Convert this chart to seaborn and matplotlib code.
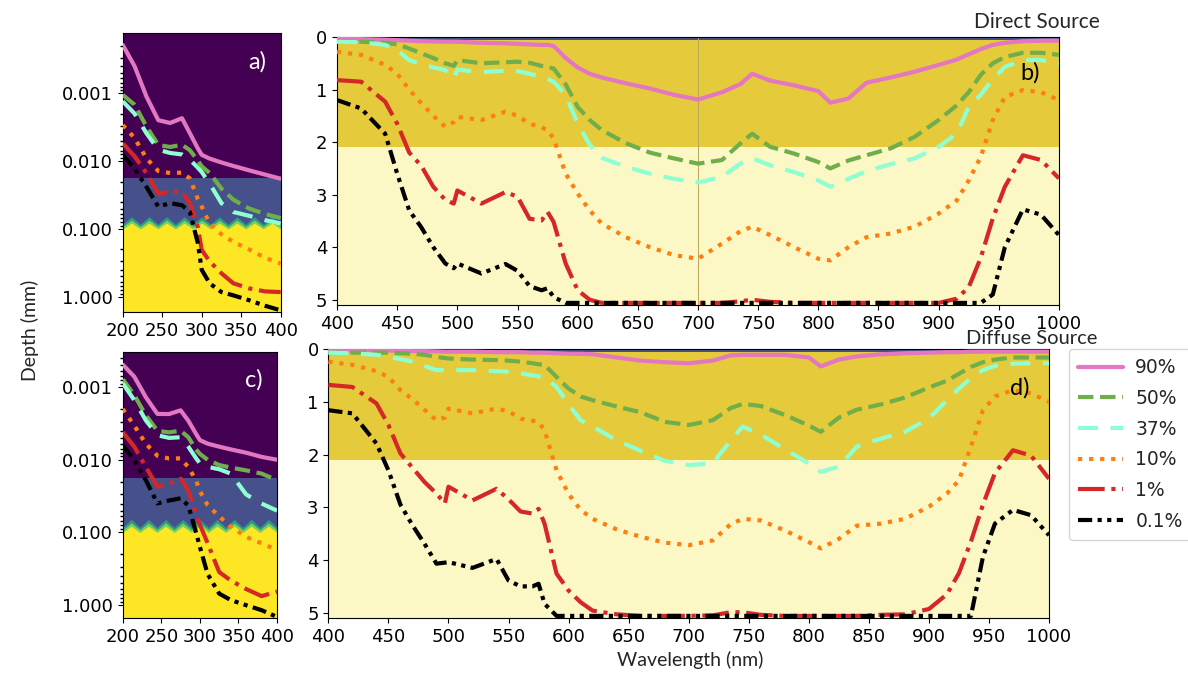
import numpy as np
import pandas as pd
import matplotlib
matplotlib.use("Agg")
import matplotlib.pyplot as plt
from matplotlib.lines import Line2D
from matplotlib.ticker import LogLocator, FormatStrFormatter, NullFormatter, MultipleLocator
import seaborn as sns

# ---------------------------------------------------------------- data
levels = ["90%", "50%", "37%", "10%", "1%", "0.1%"]

# UV range (log depth axes), depth in mm
uv_wl = [200, 215, 230, 245, 260, 275, 285, 295, 300, 310, 325, 340, 360, 380, 400]

a_90 = [0.000195, 0.00040, 0.00112, 0.0025, 0.00275, 0.00234, 0.00389, 0.0065, 0.0081, 0.0092, 0.0105, 0.0118, 0.0137, 0.0158, 0.0182]
a_50 = [0.00106, 0.00148, 0.00309, 0.0058, 0.0062, 0.00575, 0.00692, 0.0098, 0.0120, 0.0150, 0.0255, 0.037, 0.050, 0.060, 0.0692]
a_37 = [0.00132, 0.0020, 0.00389, 0.0068, 0.0076, 0.0080, 0.00955, 0.0125, 0.0145, 0.0214, 0.0417, 0.0562, 0.064, 0.074, 0.0832]
a_10 = [0.00295, 0.00457, 0.00912, 0.0140, 0.0150, 0.0148, 0.0180, 0.036, 0.0468, 0.0832, 0.120, 0.155, 0.200, 0.265, 0.324]
a_1 = [0.0055, 0.0085, 0.0151, 0.0302, 0.0282, 0.0282, 0.0417, 0.0933, 0.204, 0.30, 0.45, 0.631, 0.75, 0.83, 0.85]
a_01 = [0.0081, 0.0129, 0.024, 0.0468, 0.0417, 0.0447, 0.0562, 0.16, 0.40, 0.631, 0.85, 0.95, 1.12, 1.35, 1.58]

c_90 = [0.00049, 0.00072, 0.00138, 0.00234, 0.00235, 0.00209, 0.0029, 0.0044, 0.00537, 0.0060, 0.0066, 0.0072, 0.0080, 0.00912, 0.0100]
c_50 = [0.00078, 0.00129, 0.00245, 0.0040, 0.0042, 0.00398, 0.0049, 0.0072, 0.0083, 0.0100, 0.0118, 0.0128, 0.0140, 0.0155, 0.0191]
c_37 = [0.00089, 0.00151, 0.00288, 0.0046, 0.0050, 0.0049, 0.0066, 0.0095, 0.0112, 0.0125, 0.0135, 0.0155, 0.030, 0.040, 0.0501]
c_10 = [0.0020, 0.00339, 0.00603, 0.0088, 0.0096, 0.00955, 0.0126, 0.0191, 0.027, 0.042, 0.060, 0.0832, 0.115, 0.141, 0.174]
c_1 = [0.00417, 0.0066, 0.0126, 0.0234, 0.0214, 0.0182, 0.0263, 0.055, 0.078, 0.14, 0.35, 0.457, 0.60, 0.75, 0.65]
c_01 = [0.0063, 0.0102, 0.0191, 0.0398, 0.0363, 0.0339, 0.0427, 0.10, 0.158, 0.372, 0.692, 0.85, 1.0, 1.17, 1.45]

# Visible / NIR range (linear depth axes), depth in mm
vis_wl = [400, 420, 440, 450, 460, 470, 480, 490, 497, 500,
          520, 540, 550, 560, 570, 575, 580, 590, 600, 610,
          620, 640, 660, 680, 700, 720, 735, 745, 760, 780,
          800, 810, 825, 840, 860, 880, 900, 915, 925, 935,
          945, 955, 970, 985, 1000]

b_90 = [0.03, 0.04, 0.05, 0.06, 0.07, 0.08, 0.085, 0.09, 0.09, 0.09,
        0.11, 0.12, 0.13, 0.14, 0.15, 0.15, 0.17, 0.40, 0.58, 0.70,
        0.77, 0.88, 0.98, 1.10, 1.19, 1.05, 0.90, 0.70, 0.83, 0.92,
        1.03, 1.25, 1.17, 0.87, 0.77, 0.66, 0.53, 0.43, 0.33, 0.23,
        0.15, 0.11, 0.08, 0.07, 0.07]
b_50 = [0.08, 0.09, 0.11, 0.14, 0.22, 0.31, 0.40, 0.50, 0.55, 0.44,
        0.50, 0.48, 0.47, 0.49, 0.55, 0.57, 0.60, 0.90, 1.33, 1.58,
        1.77, 2.02, 2.20, 2.31, 2.41, 2.34, 2.03, 1.84, 2.09, 2.22,
        2.38, 2.50, 2.35, 2.25, 2.12, 1.90, 1.58, 1.30, 1.05, 0.72,
        0.50, 0.38, 0.30, 0.30, 0.34]
b_37 = [0.09, 0.10, 0.15, 0.25, 0.44, 0.52, 0.58, 0.63, 0.79, 0.62,
        0.67, 0.64, 0.65, 0.70, 0.76, 0.80, 0.85, 1.10, 1.65, 2.05,
        2.30, 2.47, 2.60, 2.70, 2.77, 2.66, 2.41, 2.31, 2.44, 2.57,
        2.73, 2.85, 2.70, 2.55, 2.42, 2.31, 2.09, 1.84, 1.33, 1.10,
        0.80, 0.57, 0.44, 0.44, 0.50]
b_10 = [0.28, 0.34, 0.53, 0.70, 1.00, 1.26, 1.50, 1.71, 1.62, 1.52,
        1.58, 1.42, 1.50, 1.65, 1.72, 1.77, 1.93, 2.60, 2.98, 3.30,
        3.55, 3.81, 4.00, 4.15, 4.22, 3.93, 3.70, 3.61, 3.77, 4.00,
        4.22, 4.25, 4.00, 3.81, 3.74, 3.61, 3.36, 3.11, 2.73, 2.28,
        1.58, 1.14, 1.01, 1.05, 1.20]
b_1 = [0.82, 0.85, 1.23, 1.65, 2.20, 2.45, 2.85, 3.10, 3.17, 2.92,
       3.17, 2.95, 3.04, 3.46, 3.49, 3.33, 3.52, 4.31, 4.82, 5.00,
       5.06, 5.06, 5.06, 5.06, 5.06, 5.06, 5.03, 5.00, 5.04, 5.06,
       5.06, 5.06, 5.06, 5.06, 5.06, 5.06, 5.06, 4.98, 4.76, 4.20,
       3.45, 2.85, 2.25, 2.34, 2.69]
b_01 = [1.20, 1.36, 1.84, 2.60, 3.30, 3.62, 4.00, 4.31, 4.40, 4.31,
        4.50, 4.32, 4.45, 4.74, 4.82, 4.78, 4.95, 5.06, 5.06, 5.06,
        5.06, 5.06, 5.06, 5.06, 5.06, 5.06, 5.06, 5.06, 5.06, 5.06,
        5.06, 5.06, 5.06, 5.06, 5.06, 5.06, 5.06, 5.06, 5.06, 5.06,
        4.90, 4.00, 3.28, 3.38, 3.77]

d_90 = [0.03, 0.03, 0.03, 0.03, 0.035, 0.04, 0.04, 0.045, 0.05, 0.05,
        0.05, 0.06, 0.06, 0.06, 0.07, 0.07, 0.07, 0.08, 0.09, 0.09,
        0.10, 0.16, 0.22, 0.25, 0.27, 0.22, 0.12, 0.11, 0.11, 0.11,
        0.16, 0.33, 0.20, 0.14, 0.10, 0.08, 0.07, 0.06, 0.06, 0.05,
        0.05, 0.05, 0.05, 0.05, 0.05]
d_50 = [0.07, 0.07, 0.07, 0.07, 0.08, 0.09, 0.11, 0.15, 0.17, 0.18,
        0.20, 0.21, 0.22, 0.24, 0.27, 0.29, 0.30, 0.53, 0.75, 0.90,
        0.97, 1.09, 1.20, 1.38, 1.44, 1.35, 1.12, 1.04, 1.08, 1.25,
        1.45, 1.57, 1.30, 1.15, 1.05, 0.92, 0.73, 0.60, 0.47, 0.34,
        0.25, 0.20, 0.16, 0.16, 0.16]
d_37 = [0.07, 0.08, 0.11, 0.15, 0.19, 0.24, 0.32, 0.40, 0.40, 0.40,
        0.40, 0.42, 0.43, 0.46, 0.50, 0.52, 0.53, 0.72, 1.05, 1.35,
        1.47, 1.73, 1.93, 2.12, 2.20, 2.17, 1.73, 1.47, 1.62, 1.90,
        2.17, 2.33, 2.23, 1.85, 1.70, 1.57, 1.32, 0.97, 0.75, 0.55,
        0.40, 0.32, 0.28, 0.27, 0.27]
d_10 = [0.24, 0.30, 0.42, 0.53, 0.78, 0.95, 1.15, 1.35, 1.30, 1.13,
        1.22, 1.13, 1.18, 1.32, 1.36, 1.38, 1.54, 2.30, 2.75, 3.05,
        3.22, 3.42, 3.56, 3.67, 3.72, 3.63, 3.32, 3.22, 3.25, 3.44,
        3.66, 3.78, 3.60, 3.35, 3.31, 3.22, 2.99, 2.74, 2.49, 1.85,
        1.16, 0.90, 0.78, 0.84, 1.00]
d_1 = [0.68, 0.72, 1.03, 1.44, 1.98, 2.25, 2.52, 2.74, 2.93, 2.61,
       2.87, 2.65, 2.85, 3.08, 3.12, 3.03, 3.31, 4.26, 4.58, 4.80,
       4.96, 5.03, 5.06, 5.06, 5.06, 5.05, 4.99, 4.99, 5.04, 5.06,
       5.06, 5.06, 5.06, 5.06, 5.04, 5.03, 4.93, 4.65, 4.25, 3.65,
       2.95, 2.35, 1.92, 2.02, 2.46]
d_01 = [1.16, 1.22, 1.79, 2.30, 2.95, 3.34, 3.69, 4.07, 4.05, 4.04,
        4.15, 3.98, 4.39, 4.50, 4.50, 4.45, 4.83, 5.06, 5.06, 5.06,
        5.06, 5.06, 5.06, 5.06, 5.06, 5.06, 5.06, 5.06, 5.06, 5.06,
        5.06, 5.06, 5.06, 5.06, 5.06, 5.06, 5.06, 5.06, 5.06, 5.06,
        3.94, 3.31, 3.05, 3.15, 3.53]

# skin layer boundaries (mm)
sc_bottom = 0.018        # stratum corneum
epi_bottom = 0.10        # epidermis
dermis_bottom = 2.1      # dermis
surface_band = 0.06      # thin top layer as seen on the linear axis

# ---------------------------------------------------------------- style
sns.set_theme(style="ticks", context="notebook")
plt.rcParams.update({
    "font.family": ["DejaVu Sans"],
    "xtick.labelsize": 13, "ytick.labelsize": 13,
    "xtick.major.size": 3.5, "ytick.major.size": 3.5,
    "xtick.minor.size": 2, "ytick.minor.size": 2,
    "xtick.major.width": 0.8, "ytick.major.width": 0.8,
    "axes.linewidth": 0.8, "axes.edgecolor": "black",
    "xtick.color": "black", "ytick.color": "black",
})
label_font = ["Lato", "DejaVu Sans"]

colors = {"90%": "#e377c2", "50%": "#6fae4a", "37%": "#8effd2",
          "10%": "#ff7f0e", "1%": "#d62728", "0.1%": "#000000"}
styles = {"90%": "-", "50%": (0, (3.7, 1.6)), "37%": (0, (4.8, 3.0)),
          "10%": (0, (1.0, 1.65)), "1%": (0, (6.4, 1.6, 1.0, 1.6)),
          "0.1%": (0, (3.4, 1.3, 1.0, 1.3, 1.0, 1.3))}
LW = 3.0

fig = plt.figure(figsize=(11.88, 6.73), dpi=100)
ax_a = fig.add_axes([0.1033, 0.5364, 0.1330, 0.4146])
ax_b = fig.add_axes([0.2837, 0.5468, 0.6077, 0.3982])
ax_c = fig.add_axes([0.1033, 0.0817, 0.1299, 0.3952])
ax_d = fig.add_axes([0.2764, 0.0817, 0.6066, 0.3997])


def draw_lines(ax, wl, series):
    for lev, depth in zip(levels, series):
        sns.lineplot(x=wl, y=depth, ax=ax, color=colors[lev], linestyle=styles[lev],
                     linewidth=LW, estimator=None, sort=False, legend=False, zorder=3)


def uv_background(ax, bottom):
    ax.axhspan(1e-6, sc_bottom, color="#440154", lw=0, zorder=0)
    ax.axhspan(sc_bottom, epi_bottom, color="#46508a", lw=0, zorder=0)
    n_teeth = 9
    zig_wl = np.linspace(200, 400, 2 * n_teeth + 1)
    up = np.arange(zig_wl.size) % 2 == 1
    for hi, lo, col in [(0.066, 0.085, "#2f9a8a"), (0.074, 0.092, "#7cd250"),
                        (0.082, 0.100, "#fde725")]:
        edge = np.where(up, hi, lo)
        ax.fill_between(zig_wl, edge, bottom * 1.5, color=col, lw=0, zorder=1)


def vis_background(ax, bottom):
    ax.axhspan(0, surface_band, color="#46508a", lw=0, zorder=0)
    ax.axhspan(surface_band, dermis_bottom, color="#e5ca3c", lw=0, zorder=0)
    ax.axhspan(dermis_bottom, bottom, color="#fbf8c5", lw=0, zorder=0)


# ---- UV panels (log depth)
for ax, series, lims, tag in [(ax_a, [a_90, a_50, a_37, a_10, a_1, a_01], (1.67, 1.3e-4), "a)"),
                              (ax_c, [c_90, c_50, c_37, c_10, c_1, c_01], (1.5, 3.3e-4), "c)")]:
    ax.set_yscale("log")
    uv_background(ax, lims[0])
    draw_lines(ax, uv_wl, series)
    ax.set_xlim(200, 400)
    ax.set_ylim(*lims)
    ax.set_xticks([200, 250, 300, 350, 400])
    ax.yaxis.set_major_locator(LogLocator(base=10, numticks=10))
    ax.yaxis.set_major_formatter(FormatStrFormatter("%.3f"))
    ax.yaxis.set_minor_locator(LogLocator(base=10, subs=np.arange(2, 10), numticks=20))
    ax.yaxis.set_minor_formatter(NullFormatter())
    ax.set_xlabel("")
    ax.set_ylabel("")
    ax.text(0.85, 0.895, tag, transform=ax.transAxes, color="white", fontsize=17,
            ha="center", va="center", family=label_font, zorder=5)

# ---- visible / NIR panels (linear depth)
for ax, series, bottom, tag, ty in [(ax_b, [b_90, b_50, b_37, b_10, b_1, b_01], 5.1, "b)", 0.866),
                                    (ax_d, [d_90, d_50, d_37, d_10, d_1, d_01], 5.1, "d)", 0.855)]:
    vis_background(ax, bottom)
    draw_lines(ax, vis_wl, series)
    ax.set_xlim(400, 1000)
    ax.set_ylim(bottom, 0)
    ax.xaxis.set_major_locator(MultipleLocator(50))
    ax.set_yticks([0, 1, 2, 3, 4, 5])
    ax.set_xlabel("")
    ax.set_ylabel("")
    ax.text(0.96, ty, tag, transform=ax.transAxes, color="black", fontsize=17,
            ha="center", va="center", family=label_font, zorder=5)

ax_b.axvline(700, color="#b9a75a", lw=0.7, zorder=1)

# ---- figure text
fig.text(0.926, 0.967, "Direct Source", ha="right", va="center", fontsize=15, family=label_font)
fig.text(0.924, 0.4963, "Diffuse Source", ha="right", va="center", fontsize=14.5, family=label_font)
fig.text(0.581, 0.019, "Wavelength (nm)", ha="center", va="center", fontsize=14, family=label_font)
fig.text(0.0253, 0.5097, "Depth (mm)", ha="center", va="center", rotation=90, fontsize=14,
         family=label_font)

handles = [Line2D([0], [0], color=colors[l], linestyle=styles[l], linewidth=LW) for l in levels]
fig.legend(handles, levels, loc="upper left", bbox_to_anchor=(0.8998, 0.4814),
           fontsize=13.5, frameon=True, handlelength=2.4, handletextpad=0.64,
           labelspacing=0.62, borderpad=0.5, borderaxespad=0.0, fancybox=True,
           edgecolor="#cccccc")

fig.savefig("out.png", dpi=100)
